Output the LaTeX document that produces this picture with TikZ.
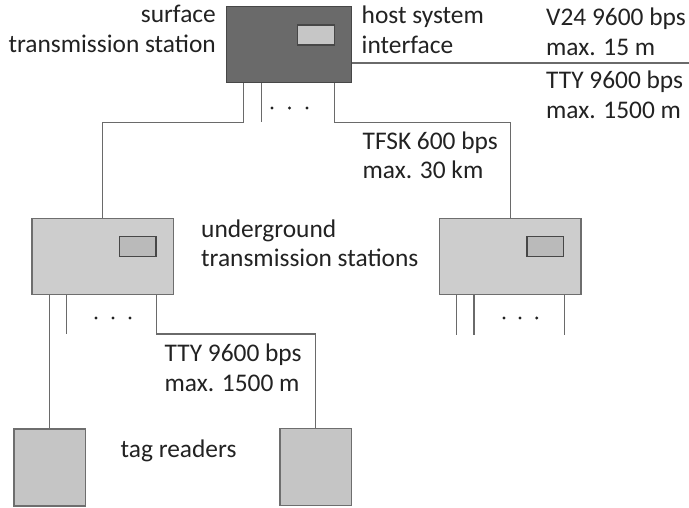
\documentclass[tikz,border=0pt]{standalone}
\usepackage{fontspec}
\setmainfont{Carlito}
\usetikzlibrary{calc}
\definecolor{darkbox}{HTML}{6A6A6A}
\definecolor{darkedge}{HTML}{474747}
\definecolor{lightbox}{HTML}{CDCDCD}
\definecolor{lightedge}{HTML}{6E6E6E}
\definecolor{panelfill}{HTML}{BABABA}
\definecolor{panelfilltop}{HTML}{C6C6C6}
\definecolor{wire}{HTML}{6A6A6A}
\definecolor{ink}{HTML}{222222}
\begin{document}
\begin{tikzpicture}[x=1pt,y=-1pt,
  station/.style={draw=lightedge,fill=lightbox,line width=1.5pt,inner sep=0pt,
    minimum width=141.5pt,minimum height=76pt},
  surfacebox/.style={draw=darkedge,fill=darkbox,line width=1.5pt,inner sep=0pt,
    minimum width=125pt,minimum height=76pt},
  reader/.style={draw=lightedge,fill=lightbox!96!black,line width=1.5pt,inner sep=0pt,
    minimum width=71.5pt,minimum height=77pt},
  panel/.style={draw=darkedge,fill=panelfill,line width=1.3pt,inner sep=0pt,
    minimum width=36.7pt,minimum height=20pt,anchor=north east},
  wireline/.style={draw=wire,line width=1.5pt},
  label/.style={text=ink,inner sep=0pt,font=\fontsize{25.4}{29.5}\selectfont},
  dot/.style={fill=ink,circle,inner sep=0pt,minimum size=3.4pt}]
\useasboundingbox (0,0) rectangle (689,508);
\fill[white] (0,0) rectangle (689,508);

% stations and readers
\node[surfacebox] (surf) at (289.2,44.6) {};
\node[panel,fill=panelfilltop] (surfpanel) at ($(surf.north east)+(-17.5,18.5)$) {};
\node[station] (ugL) at (102.6,256.3) {};
\node[panel] (ugLpanel) at ($(ugL.north east)+(-17.5,18.5)$) {};
\node[station] (ugR) at (510.4,256.3) {};
\node[panel] (ugRpanel) at ($(ugR.north east)+(-17.5,18.5)$) {};
\node[reader] (tagA) at (49.6,467.3) {};
\node[reader] (tagB) at (315.5,467.0) {};

% host system interface line
\coordinate (hostend) at (689,63);
\draw[wireline] (hostend -| surf.east) -- (hostend);

% links from the surface station
\draw[wireline] ($(surf.south west)+(17.5,0)$) -- ++(0,39) -| (ugL.north);
\draw[wireline] ($(surf.south west)+(35.5,0)$) -- ++(0,39);
\draw[wireline] ($(surf.south east)+(-18,0)$) -- ++(0,39) -| (ugR.north);

% links from the left underground station
\draw[wireline] (tagA.north |- ugL.south) -- (tagA.north);
\draw[wireline] ($(ugL.south west)+(35.3,0)$) -- ++(0,39);
\draw[wireline] ($(ugL.south east)+(-17.5,0)$) -- ++(0,39) -| (tagB.north);

% open ports of the right underground station
\draw[wireline] ($(ugR.south west)+(17.4,0)$) -- ++(0,39.5);
\draw[wireline] ($(ugR.south west)+(35,0)$) -- ++(0,39.5);
\draw[wireline] ($(ugR.south east)+(-17.3,0)$) -- ++(0,39.5);

% ellipses
\foreach \x [count=\i] in {272,289.5,307}
  \node[dot] (dt\i) at (\x,108) {};
\foreach \x [count=\i] in {96,113,130}
  \node[dot] (dl\i) at (\x,318) {};
\foreach \x [count=\i] in {504,520,536.7}
  \node[dot] (dr\i) at (\x,318) {};

% labels (anchored at the baseline of their last line)
\node[label,align=right,anchor=base east] (lsurf) at (216,52.5) {surface\\transmission station};
\node[label,align=left,anchor=base west] (lhost) at (361.5,53.5) {host system\\interface};
\node[label,align=left,anchor=base west] (lv24) at (546,55.5) {V24 9600 bps\\max. 15 m};
\node[label,align=left,anchor=base west] (ltty) at (546,118.5) {TTY 9600 bps\\max. 1500 m};
\node[label,align=left,anchor=base west] (ltfsk) at (362.5,179) {TFSK 600 bps\\max. 30 km};
\node[label,align=left,anchor=base west] (lug) at (201,266.5) {underground\\transmission stations};
\node[label,align=left,anchor=base west] (ltty2) at (164.5,391) {TTY 9600 bps\\max. 1500 m};
\node[label,anchor=base west] (ltag) at (120.5,457) {tag readers};
\end{tikzpicture}
\end{document}
